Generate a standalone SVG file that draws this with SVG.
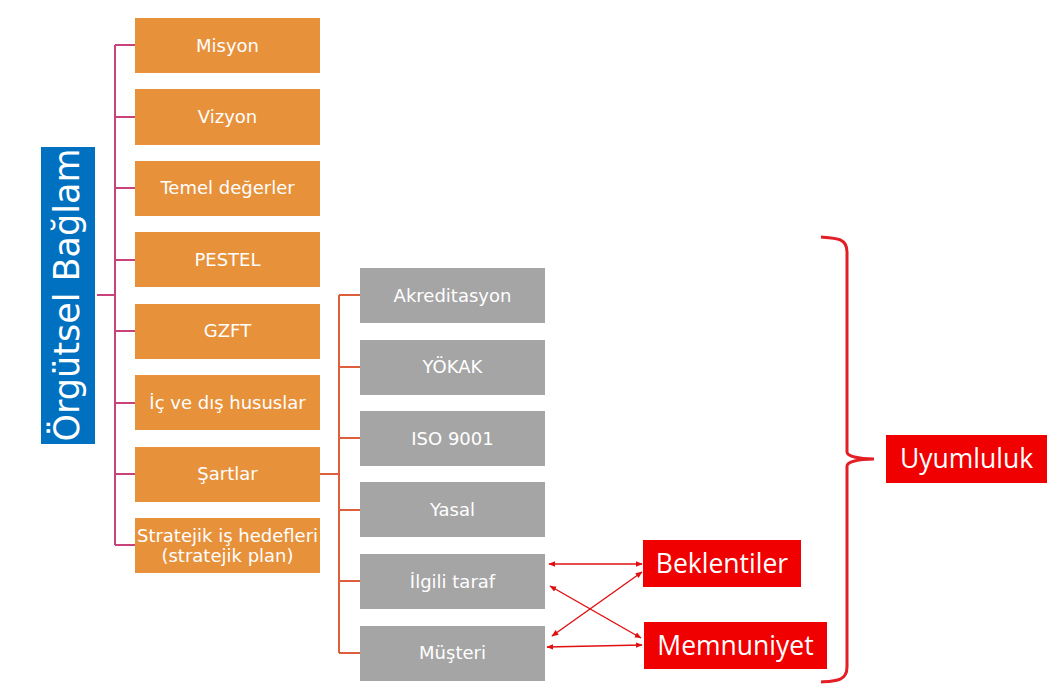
<svg xmlns="http://www.w3.org/2000/svg" width="1058" height="696" viewBox="0 0 1058 696">
<style>
.ob{fill:#E8913B}
.gb{fill:#A5A5A5}
.rb{fill:#F00000}
.bt{font-family:"DejaVu Sans","Liberation Sans",sans-serif;font-size:18px;fill:#FFFFFF;text-anchor:middle}
.rt{font-family:"Open Sans","Liberation Sans",sans-serif;font-size:26.5px;fill:#FFFFFF;text-anchor:middle}
.pink{stroke:#C8437C;stroke-width:2;fill:none}
.org{stroke:#DE5F3C;stroke-width:2;fill:none}
.arr{stroke:#E01010;stroke-width:1.4;fill:none;marker-start:url(#ah);marker-end:url(#ah)}
</style>
<defs>
<marker id="ah" viewBox="0 0 10 10" refX="9" refY="5" markerWidth="7" markerHeight="7" orient="auto-start-reverse" markerUnits="userSpaceOnUse">
<path d="M0,1 L10,5 L0,9 z" fill="#E01010"/>
</marker>
</defs>
<rect width="1058" height="696" fill="#FFFFFF"/>
<g id="connectors">
<path class="pink" d="M97,295 H115 M115,45 V545 M115,45 H135 M115,117 H135 M115,188 H135 M115,260 H135 M115,331 H135 M115,403 H135 M115,474 H135 M115,545 H135"/>
<path class="org" d="M320,474 H339 M339,295 V653 M339,295 H360 M339,367 H360 M339,438 H360 M339,510 H360 M339,581 H360 M339,653 H360"/>
<line class="arr" x1="549" y1="564" x2="642" y2="564"/>
<line class="arr" x1="550" y1="586" x2="641" y2="638"/>
<line class="arr" x1="552" y1="636" x2="642" y2="572"/>
<line class="arr" x1="547" y1="647" x2="642" y2="645"/>
<path d="M821,237 C836,238 847,238 847,252 V452 C847,456 858,459 874,459 C858,459 847,462 847,466 V667 C847,681 836,681 821,682" stroke="#E31E24" stroke-width="3" fill="none"/>
</g>
<g id="root"><rect x="41" y="147" width="54" height="297" fill="#0070C0"/><text transform="translate(79,295) rotate(-90)" font-family="DejaVu Sans, Liberation Sans, sans-serif" font-size="35" fill="#FFFFFF" text-anchor="middle">Örgütsel Bağlam</text></g>
<g id="misyon"><rect class="ob" x="135" y="18" width="185" height="55"/><text class="bt" x="227.5" y="52">Misyon</text></g>
<g id="vizyon"><rect class="ob" x="135" y="89" width="185" height="56"/><text class="bt" x="227.5" y="123">Vizyon</text></g>
<g id="temel"><rect class="ob" x="135" y="161" width="185" height="55"/><text class="bt" x="227.5" y="194">Temel değerler</text></g>
<g id="pestel"><rect class="ob" x="135" y="232" width="185" height="55"/><text class="bt" x="227.5" y="266">PESTEL</text></g>
<g id="gzft"><rect class="ob" x="135" y="304" width="185" height="55"/><text class="bt" x="227.5" y="337">GZFT</text></g>
<g id="ic"><rect class="ob" x="135" y="375" width="185" height="55"/><text class="bt" x="227.5" y="409">İç ve dış hususlar</text></g>
<g id="sartlar"><rect class="ob" x="135" y="447" width="185" height="55"/><text class="bt" x="227.5" y="480">Şartlar</text></g>
<g id="stratejik"><rect class="ob" x="135" y="518" width="185" height="55"/><text class="bt" x="227.5" y="542">Stratejik iş hedefleri</text><text class="bt" x="227.5" y="562">(stratejik plan)</text></g>
<g id="akreditasyon"><rect class="gb" x="360" y="268" width="185" height="55"/><text class="bt" x="452.5" y="302">Akreditasyon</text></g>
<g id="yokak"><rect class="gb" x="360" y="340" width="185" height="55"/><text class="bt" x="452.5" y="373">YÖKAK</text></g>
<g id="iso"><rect class="gb" x="360" y="411" width="185" height="55"/><text class="bt" x="452.5" y="445">ISO 9001</text></g>
<g id="yasal"><rect class="gb" x="360" y="482" width="185" height="55"/><text class="bt" x="452.5" y="516">Yasal</text></g>
<g id="ilgili"><rect class="gb" x="360" y="554" width="185" height="55"/><text class="bt" x="452.5" y="588">İlgili taraf</text></g>
<g id="musteri"><rect class="gb" x="360" y="626" width="185" height="55"/><text class="bt" x="452.5" y="659">Müşteri</text></g>
<g id="beklentiler"><rect class="rb" x="643" y="540" width="158" height="47"/><text class="rt" x="722" y="573">Beklentiler</text></g>
<g id="memnuniyet"><rect class="rb" x="644" y="622" width="183" height="47"/><text class="rt" x="735.5" y="655">Memnuniyet</text></g>
<g id="uyumluluk"><rect class="rb" x="886" y="435" width="161" height="48"/><text class="rt" x="966.5" y="468">Uyumluluk</text></g>
</svg>
